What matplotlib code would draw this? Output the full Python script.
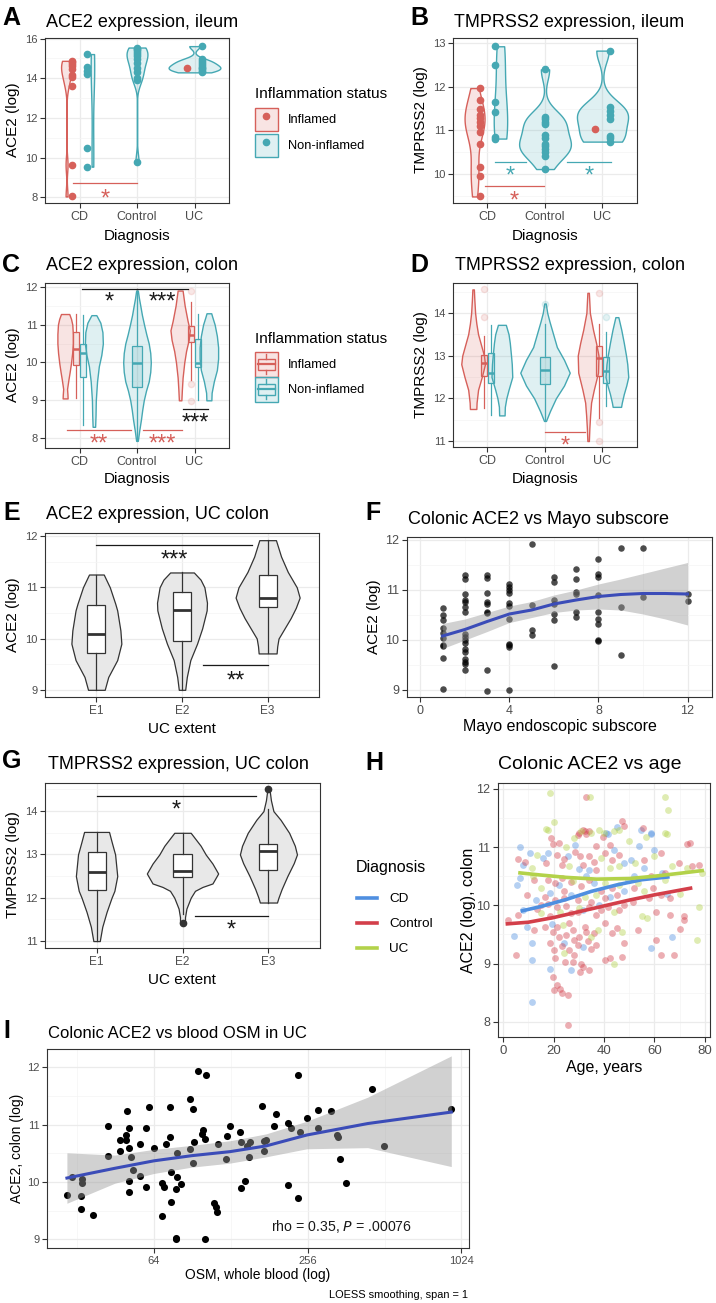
import numpy as np
import matplotlib
matplotlib.use('Agg')
import matplotlib.pyplot as plt
from matplotlib.colors import to_rgba
from matplotlib.lines import Line2D
from matplotlib.patches import Patch, Rectangle
from matplotlib.legend_handler import HandlerBase

plt.rcParams['font.family'] = ['Liberation Sans', 'DejaVu Sans']

# ---------------- data ----------------
diagnoses = ['CD', 'Control', 'UC']
statuses = ['Inflamed', 'Non-inflamed']
extents = ['E1', 'E2', 'E3']

# A: ACE2 (log), ileum, one value per sample
ace2_ileum_inflamed = {'CD': [14.88, 14.8, 14.72, 14.6, 14.45, 14.15, 14.05, 13.62, 9.65, 8.05],
                       'UC': [14.5]}
ace2_ileum_noninflamed = {'CD': [15.22, 14.58, 14.38, 14.21, 10.5, 9.55],
                          'Control': [15.55, 15.5, 15.45, 15.34, 15.2, 15.1, 14.95, 14.75, 14.5,
                                      14.33, 14.0, 13.9, 9.8],
                          'UC': [15.62, 14.95, 14.85, 14.75, 14.65, 14.58, 14.5, 14.45, 14.38, 14.3]}

# B: TMPRSS2 (log), ileum
tmprss2_ileum_inflamed = {'CD': [11.97, 11.7, 11.5, 11.35, 11.28, 11.2, 11.1, 10.97, 10.68, 10.15,
                                 9.94, 9.48],
                          'UC': [11.03]}
tmprss2_ileum_noninflamed = {'CD': [12.93, 12.5, 11.65, 11.42, 10.84, 10.81],
                             'Control': [12.4, 11.3, 11.26, 11.2, 11.15, 10.9, 10.82, 10.68, 10.63,
                                         10.58, 10.5, 10.42, 10.11],
                             'UC': [12.83, 11.53, 11.45, 11.35, 11.25, 10.87, 10.82, 10.74]}

# C: ACE2 (log), colon -- box stats (lower whisker, Q1, median, Q3, upper whisker)
ace2_colon_box = {('CD', 'Inflamed'): [9.05, 9.93, 10.36, 10.8, 11.28],
                  ('CD', 'Non-inflamed'): [8.34, 9.61, 10.25, 10.49, 11.25],
                  ('Control', 'Non-inflamed'): [7.93, 9.36, 9.98, 10.44, 11.9],
                  ('UC', 'Inflamed'): [9.54, 10.55, 10.73, 10.97, 11.61],
                  ('UC', 'Non-inflamed'): [9.0, 9.87, 9.99, 10.61, 11.28]}
ace2_colon_outliers = {('UC', 'Inflamed'): [11.88, 9.43, 8.97]}
# violin outlines: y levels, relative density
ace2_colon_violin = {
    ('CD', 'Inflamed'): ([9.05, 9.15, 9.3, 9.55, 9.75, 9.97, 10.25, 10.5, 10.75, 11.0, 11.15, 11.28],
                         [0.18, 0.17, 0.14, 0.24, 0.33, 0.42, 0.51, 0.56, 0.56, 0.52, 0.43, 0.30]),
    ('CD', 'Non-inflamed'): ([8.3, 8.6, 9.0, 9.5, 9.9, 10.2, 10.5, 10.8, 11.05, 11.25],
                             [0.09, 0.12, 0.14, 0.23, 0.36, 0.54, 0.65, 0.62, 0.47, 0.18]),
    ('Control', 'Non-inflamed'): ([7.93, 8.2, 8.5, 8.75, 9.0, 9.25, 9.5, 9.75, 10.0, 10.25, 10.5,
                                   10.75, 11.0, 11.25, 11.5, 11.7, 11.9],
                                  [0.06, 0.16, 0.29, 0.38, 0.49, 0.65, 0.85, 0.96, 1.0, 0.96, 0.85,
                                   0.67, 0.51, 0.36, 0.24, 0.14, 0.06]),
    ('UC', 'Inflamed'): ([9.0, 9.3, 9.6, 10.0, 10.3, 10.6, 10.85, 11.1, 11.5, 11.9],
                         [0.09, 0.13, 0.18, 0.30, 0.43, 0.62, 0.70, 0.54, 0.33, 0.18]),
    ('UC', 'Non-inflamed'): ([9.0, 9.2, 9.5, 9.8, 10.1, 10.4, 10.7, 11.0, 11.2, 11.3],
                             [0.18, 0.2, 0.36, 0.58, 0.67, 0.67, 0.58, 0.42, 0.25, 0.17])}

# D: TMPRSS2 (log), colon
tmprss2_colon_box = {('CD', 'Inflamed'): [11.78, 12.52, 12.82, 13.02, 13.47],
                     ('CD', 'Non-inflamed'): [11.62, 12.36, 12.6, 13.07, 13.72],
                     ('Control', 'Non-inflamed'): [11.5, 12.33, 12.67, 12.97, 13.75],
                     ('UC', 'Inflamed'): [11.55, 12.52, 12.95, 13.22, 13.75],
                     ('UC', 'Non-inflamed'): [11.81, 12.35, 12.64, 12.96, 13.56]}
tmprss2_colon_outliers = {('CD', 'Inflamed'): [14.55, 13.9],
                          ('Control', 'Non-inflamed'): [14.2],
                          ('UC', 'Inflamed'): [14.47, 11.44, 11.0],
                          ('UC', 'Non-inflamed'): [13.91]}
tmprss2_colon_violin = {
    ('CD', 'Inflamed'): ([11.75, 11.9, 12.2, 12.5, 12.8, 13.0, 13.25, 13.5, 13.75, 14.0, 14.3, 14.55],
                         [0.13, 0.14, 0.2, 0.35, 0.48, 0.44, 0.32, 0.2, 0.13, 0.08, 0.05, 0.03]),
    ('CD', 'Non-inflamed'): ([11.6, 11.8, 12.0, 12.2, 12.5, 12.8, 13.0, 13.3, 13.5, 13.72],
                             [0.11, 0.12, 0.18, 0.27, 0.42, 0.4, 0.37, 0.32, 0.27, 0.16]),
    ('Control', 'Non-inflamed'): ([11.47, 11.7, 12.0, 12.3, 12.6, 12.9, 13.2, 13.5, 13.8, 14.0, 14.22],
                                  [0.04, 0.2, 0.44, 0.77, 1.0, 0.77, 0.48, 0.33, 0.18, 0.09, 0.03]),
    ('UC', 'Inflamed'): ([11.0, 11.3, 11.6, 11.9, 12.2, 12.6, 13.0, 13.3, 13.6, 14.0, 14.47],
                         [0.03, 0.05, 0.08, 0.12, 0.23, 0.4, 0.42, 0.32, 0.2, 0.07, 0.03]),
    ('UC', 'Non-inflamed'): ([11.8, 11.9, 12.1, 12.3, 12.5, 12.8, 13.0, 13.3, 13.6, 13.9],
                             [0.17, 0.2, 0.28, 0.38, 0.46, 0.42, 0.37, 0.28, 0.18, 0.06])}

# E: ACE2 (log), UC colon by extent
ace2_extent_box = {'E1': [9.0, 9.72, 10.08, 10.65, 11.25],
                   'E2': [9.0, 9.95, 10.55, 10.91, 11.29],
                   'E3': [9.71, 10.62, 10.8, 11.25, 11.92]}
ace2_extent_violin = {
    'E1': ([9.0, 9.25, 9.58, 9.9, 10.16, 10.55, 10.68, 11.0, 11.25],
           [0.26, 0.37, 0.65, 0.78, 0.75, 0.65, 0.59, 0.42, 0.23]),
    'E2': ([9.0, 9.25, 9.58, 9.9, 10.2, 10.55, 10.7, 11.0, 11.15, 11.29],
           [0.1, 0.15, 0.26, 0.47, 0.63, 0.77, 0.78, 0.7, 0.58, 0.37]),
    'E3': ([9.71, 9.85, 10.0, 10.2, 10.4, 10.6, 10.8, 11.0, 11.3, 11.6, 11.92],
           [0.28, 0.3, 0.34, 0.53, 0.72, 0.88, 1.0, 0.91, 0.63, 0.42, 0.26])}

# G: TMPRSS2 (log), UC colon by extent
tmprss2_extent_box = {'E1': [11.0, 12.19, 12.6, 13.06, 13.52],
                      'E2': [11.62, 12.47, 12.62, 13.0, 13.5],
                      'E3': [11.89, 12.64, 13.07, 13.24, 14.05]}
tmprss2_extent_outliers = {'E2': [11.42], 'E3': [14.5]}
tmprss2_extent_violin = {
    'E1': ([11.0, 11.33, 11.67, 12.0, 12.16, 12.5, 13.0, 13.3, 13.52],
           [0.09, 0.16, 0.28, 0.42, 0.5, 0.58, 0.52, 0.42, 0.35]),
    'E2': ([11.42, 11.55, 11.75, 12.0, 12.16, 12.25, 12.33, 12.56, 12.79, 13.0, 13.2, 13.5],
           [0.07, 0.07, 0.11, 0.23, 0.35, 0.56, 0.84, 1.0, 0.84, 0.65, 0.51, 0.23]),
    'E3': ([11.89, 12.0, 12.2, 12.5, 12.8, 13.0, 13.2, 13.5, 13.8, 14.0, 14.25, 14.5],
           [0.24, 0.28, 0.37, 0.53, 0.71, 0.8, 0.74, 0.58, 0.34, 0.14, 0.07, 0.03])}

# F: colonic ACE2 vs Mayo endoscopic subscore
mayo_ace2 = {1: [10.65, 10.5, 10.4, 10.25, 10.15, 10.05, 9.9, 9.88, 9.65, 9.02],
             2: [11.3, 11.23, 10.93, 10.81, 10.77, 10.67, 10.57, 10.13, 10.07, 10.0, 9.95, 9.83,
                 9.77, 9.63, 9.57, 9.53, 9.41],
             3: [11.3, 11.25, 10.95, 10.77, 10.73, 10.57, 10.55, 9.41, 8.99],
             4: [11.12, 11.07, 11.0, 10.95, 10.75, 10.69, 10.43, 9.93, 9.9, 9.87, 9.01],
             5: [11.92, 10.7, 10.2, 10.1],
             6: [11.27, 11.17, 10.8, 10.72, 10.53, 10.41, 9.48],
             7: [11.43, 11.23, 10.97, 10.93, 10.57, 10.47],
             8: [11.63, 11.32, 11.27, 10.9, 10.57, 10.43, 10.33, 10.01, 9.99],
             9: [11.85, 10.67, 9.71],
             10: [11.85, 10.87],
             12: [10.93, 10.79]}
mayo_fit_x = [1, 2, 3, 4, 5, 6, 7, 8, 9, 10, 11, 12]
mayo_fit = [10.08, 10.21, 10.37, 10.52, 10.6, 10.72, 10.8, 10.87, 10.91, 10.93, 10.93, 10.92]
mayo_fit_lo = [9.83, 10.0, 10.17, 10.35, 10.45, 10.55, 10.6, 10.62, 10.6, 10.52, 10.42, 10.3]
mayo_fit_hi = [10.33, 10.42, 10.55, 10.68, 10.77, 10.9, 11.0, 11.12, 11.22, 11.33, 11.44, 11.55]

# H: colonic ACE2 vs age, by diagnosis (age, ACE2)
cd_age_ace2 = [(6.9, 11.0), (41.5, 11.23), (58.7, 11.24), (28.7, 11.04), (54.0, 11.01), (10.5, 10.9),
               (16.0, 10.81), (17.8, 10.9), (25.6, 10.84), (50.5, 10.78), (7.8, 10.7), (30.0, 10.62),
               (47.8, 10.72), (56.0, 10.64), (6.9, 10.47), (5.6, 10.35), (36.0, 10.38), (49.6, 10.44),
               (47.8, 10.24), (18.7, 10.21), (26.9, 10.18), (42.4, 10.15), (7.8, 9.92), (31.8, 9.92),
               (67.0, 9.46), (9.6, 9.62), (58.7, 9.26), (11.5, 9.35), (31.5, 9.29), (27.0, 8.89),
               (18.7, 8.9), (11.5, 8.34), (40.9, 11.24), (54.5, 11.29), (58.5, 11.22), (11.5, 9.06),
               (60.0, 10.95), (63.0, 10.55), (22.0, 10.35), (34.0, 10.6), (44.0, 10.95), (33.0, 10.5),
               (19.5, 9.68), (24.0, 9.35), (4.2, 9.47), (13.0, 10.1), (38.0, 10.0), (52.0, 10.5),
               (65.0, 10.2), (45.0, 11.35)]
control_age_ace2 = [(33, 11.86), (47, 11.45), (48, 11.37), (30, 11.25), (31.5, 11.3), (33, 11.22),
                    (34, 11.27), (39.7, 11.17), (55.4, 11.32), (19, 11.15), (29.6, 11.21), (32.4, 11.27),
                    (19.6, 11.06), (22, 11.07), (37, 11.01), (42.4, 11.04), (73, 11.06), (74, 11.07),
                    (6, 10.79), (8.7, 10.75), (21.5, 10.87), (24.2, 10.79), (28.7, 10.91), (30.5, 10.84),
                    (34.2, 10.85), (40.5, 10.9), (43.3, 10.78), (46, 10.87), (56, 10.77), (62.4, 10.89),
                    (69.6, 10.72), (77.8, 10.7), (17, 10.72), (23.3, 10.7), (31.5, 10.7), (37, 10.61),
                    (64, 10.55), (75, 10.67), (12.4, 10.44), (17.8, 10.44), (20.5, 10.38), (23.3, 10.47),
                    (31, 10.33), (34.2, 10.44), (43.3, 10.29), (58.7, 10.5), (59.6, 10.29), (62.4, 10.18),
                    (66, 10.12), (57.8, 10.12), (9.6, 10.18), (16.5, 10.15), (20.5, 10.09), (24.2, 10.12),
                    (29.6, 10.09), (35, 10.06), (38.7, 10.24), (40.5, 10.12), (45, 10.18), (2, 9.75),
                    (6, 9.84), (13.3, 9.93), (17.8, 10.02), (18.7, 9.81), (21.5, 9.97), (25, 9.99),
                    (27, 9.86), (29.6, 9.89), (34.2, 9.97), (37, 9.84), (38.7, 9.92), (41.5, 9.98),
                    (46, 9.92), (48, 10.01), (51.5, 10.06), (60.5, 9.89), (66, 9.84), (71.5, 9.81),
                    (71.5, 9.74), (12.4, 9.58), (16.5, 9.63), (19.6, 9.55), (21.5, 9.62), (25, 9.49),
                    (27.8, 9.58), (30, 9.46), (32.4, 9.63), (36, 9.52), (40.5, 9.69), (43.3, 9.52),
                    (45, 9.61), (53.3, 9.58), (60.5, 9.4), (18.7, 9.35), (20, 9.23), (23.3, 9.3),
                    (26, 9.23), (28.2, 9.41), (29.6, 9.32), (33.6, 9.38), (37, 9.32), (47.8, 9.36),
                    (20.5, 9.09), (24.5, 9.03), (27.8, 9.03), (31.5, 8.95), (34.2, 8.89), (30.5, 8.86),
                    (40.5, 9.06), (42.4, 9.09), (47, 9.12), (62.4, 9.15), (67.8, 9.15), (19.6, 8.77),
                    (21.5, 8.63), (20, 8.54), (22.4, 8.56), (23.3, 8.49), (25.6, 8.46), (25.6, 7.95),
                    (22, 9.45), (26, 9.7), (28, 9.15), (31, 9.0), (33, 9.55), (35, 9.25), (24, 10.25),
                    (27, 10.4), (36, 10.75), (15, 10.0), (5, 9.14), (52, 10.3), (70, 9.6)]
uc_age_ace2 = [(18.6, 11.92), (34.5, 11.86), (64, 11.86), (65.4, 11.63), (20, 11.43), (17, 11.31),
               (30.8, 11.27), (38, 11.29), (40, 11.25), (46, 11.29), (56.6, 11.17), (64, 11.25),
               (28, 11.15), (17.8, 11.3), (35, 11.24), (44, 11.27), (65, 11.23), (13.3, 10.87),
               (38.7, 10.81), (52.4, 10.72), (67, 10.67), (11.5, 10.64), (26, 10.67), (42.4, 10.64),
               (46, 10.67), (73, 10.64), (27.8, 10.41), (40.2, 10.39), (46, 10.35), (53.3, 10.38),
               (64.2, 10.44), (56, 10.24), (32.4, 10.15), (37, 10.18), (15, 9.86), (22.7, 9.89),
               (43.8, 9.88), (55, 9.81), (57, 9.78), (77.8, 9.98), (23.8, 9.66), (37.8, 9.58),
               (47, 9.55), (77, 9.4), (24.2, 9.18), (44, 9.0), (79, 10.55), (60, 10.85), (50, 11.1),
               (70, 10.2), (25, 11.0), (12, 10.5), (15, 10.3), (35, 9.45), (30, 9.95)]
cd_fit_age = [7, 15, 25, 35, 45, 55, 66]
cd_fit = [9.9, 9.98, 10.1, 10.24, 10.35, 10.44, 10.49]
control_fit_age = [1, 10, 20, 30, 40, 50, 60, 75]
control_fit = [9.68, 9.71, 9.79, 9.89, 9.99, 10.09, 10.18, 10.3]
uc_fit_age = [6, 15, 25, 37, 50, 60, 70, 79.6]
uc_fit = [10.56, 10.52, 10.48, 10.45, 10.46, 10.5, 10.55, 10.6]

# I: colonic ACE2 vs whole-blood OSM in UC
osm_blood = [29.2, 30.7, 33.5, 33.5, 33.3, 33.3, 37.0, 42.3, 42.3, 47.0, 47.0, 49.9, 49.9, 50.3, 51.2,
             51.2, 52.1, 51.2, 51.2, 53.2, 56.5, 56.5, 59.6, 59.6, 61.4, 64, 69.0, 70.0, 69.0, 71.5,
             74.0, 74.0, 74.6, 74.6, 78.2, 78.2, 78.8, 78.8, 77.8, 81.4, 88.4, 88.4, 91.0, 91.0, 91.7,
             95.0, 99.1, 100, 101, 102, 101, 110, 112, 113, 114, 123, 124, 127, 139, 140, 140, 146,
             148, 151, 152, 172, 173, 176, 169, 189, 192, 215, 221, 214, 234, 234, 239, 254, 282, 282,
             317, 333, 336, 342, 362, 458, 509, 935]
ace2_osm = [9.77, 10.09, 10.06, 9.99, 9.76, 9.53, 9.42, 10.45, 10.97, 10.73, 10.55, 10.82, 10.74, 11.24,
            10.95, 10.59, 10.44, 10.01, 9.82, 10.21, 10.1, 10.66, 9.91, 10.95, 11.31, 10.59, 9.98, 9.91,
            9.41, 10.66, 11.3, 10.78, 10.18, 9.65, 9.02, 9.0, 10.51, 10.08, 9.88, 9.96, 11.44, 10.57,
            11.27, 10.34, 10.7, 11.94, 10.84, 10.91, 10.75, 11.87, 9.0, 9.63, 9.57, 9.48, 10.66, 10.4,
            10.8, 10.97, 10.88, 10.7, 9.89, 10.02, 10.62, 10.43, 10.7, 10.55, 10.72, 10.73, 11.33,
            10.98, 11.18, 11.03, 10.94, 9.94, 11.87, 9.72, 10.88, 11.11, 11.26, 10.95, 11.24, 10.82,
            10.79, 10.41, 9.99, 11.63, 10.62, 11.28]
osm_fit_x = [29.2, 45, 64, 90, 127, 176, 254, 440, 935]
osm_fit = [10.07, 10.24, 10.37, 10.46, 10.53, 10.63, 10.82, 11.02, 11.22]
osm_fit_lo = [9.63, 9.98, 10.15, 10.26, 10.33, 10.44, 10.58, 10.6, 10.27]
osm_fit_hi = [10.51, 10.47, 10.57, 10.64, 10.72, 10.84, 11.06, 11.48, 12.2]

# significance bars: x1, x2, y of bar, y of stars, label, colour key
sig_A = [(0.89, 2.0, 8.71, 8.3, '*', 'Inflamed')]
sig_B = [(1.13, 1.67, 10.28, 10.13, '*', 'Non-inflamed'), (2.38, 3.15, 10.28, 10.13, '*', 'Non-inflamed'),
         (0.96, 1.98, 9.71, 9.54, '*', 'Inflamed')]
sig_C = [(1.04, 2.0, 11.95, 11.79, '*', 'black'), (2.0, 2.89, 11.95, 11.79, '***', 'black'),
         (2.8, 3.23, 8.78, 8.59, '***', 'black'), (0.78, 1.9, 8.21, 8.03, '**', 'Inflamed'),
         (2.1, 2.78, 8.21, 8.03, '***', 'Inflamed')]
sig_D = [(2.0, 2.7, 11.22, 11.06, '*', 'Inflamed')]
sig_E = [(1.0, 2.82, 11.83, 11.67, '***', 'black'), (2.25, 3.0, 9.48, 9.32, '**', 'black')]
sig_G = [(1.0, 2.85, 14.35, 14.19, '*', 'black'), (2.14, 3.0, 11.57, 11.42, '*', 'black')]

# ---------------- style ----------------
COL = {'Inflamed': '#D6605A', 'Non-inflamed': '#45A8B3', 'black': '#1A1A1A'}
FILL = {k: to_rgba(v, 0.17) for k, v in COL.items()}
DX_COL = {'CD': '#4F8FE0', 'Control': '#D33F4A', 'UC': '#B3D24A'}
GRID = '#EBEBEB'
DARK = '#333333'

W, H = 716, 1303
fig = plt.figure(figsize=(W / 100, H / 100), dpi=100)


def rect(l, t, r, b):
    return [l / W, 1 - b / H, (r - l) / W, (b - t) / H]


def ftext(x, y, s, **kw):
    fig.text(x / W, 1 - y / H, s, **kw)


def gg(ax, xsize=9, ysize=8):
    for s in ax.spines.values():
        s.set_color(DARK)
        s.set_linewidth(0.8)
    ax.tick_params(length=3.5, width=0.8, color=DARK, labelcolor='#4D4D4D', pad=2)
    ax.tick_params(axis='x', labelsize=xsize)
    ax.tick_params(axis='y', labelsize=ysize)
    ax.tick_params(which='minor', length=0)
    ax.grid(True, which='major', color=GRID, lw=0.9)
    ax.grid(True, which='minor', color='#F4F4F4', lw=0.5)
    ax.set_axisbelow(True)


def kde(vals, n=256):
    v = np.asarray(vals, float)
    sd = v.std(ddof=1)
    q75, q25 = np.percentile(v, [75, 25])
    lo = min(sd, (q75 - q25) / 1.34) or sd
    bw = 0.9 * lo * len(v) ** -0.2
    ys = np.linspace(v.min(), v.max(), n)
    d = np.exp(-0.5 * ((ys[:, None] - v[None, :]) / bw) ** 2).sum(1) / (len(v) * bw * np.sqrt(2 * np.pi))
    return ys, d


def draw_sig(ax, sig):
    for x1, x2, y, ys, lab, c in sig:
        ax.plot([x1, x2], [y, y], color=COL[c], lw=0.9, zorder=4)
        ax.annotate(lab, xy=((x1 + x2) / 2, ys), xytext=(0, -10), textcoords='offset points',
                    ha='center', va='baseline', fontsize=17, color=COL[c], zorder=4)


def discrete_axis(ax, ylim, yt, ymin):
    ax.set_xlim(0.4, 3.6)
    ax.set_ylim(*ylim)
    ax.set_xticks([1, 2, 3], diagnoses)
    ax.set_yticks(yt)
    ax.set_yticks(ymin, minor=True)


def point_violins(ax, inflamed, noninflamed):
    groups = {'Inflamed': inflamed, 'Non-inflamed': noninflamed}
    violins = []
    for i, dx in enumerate(diagnoses, 1):
        vg = [st for st in statuses if dx in groups[st] and len(groups[st][dx]) >= 2]
        slot = 0.9 / len(vg)
        for k, st in enumerate(vg):
            ys, d = kde(groups[st][dx])
            violins.append((i - 0.45 + slot * (k + 0.5), slot, ys, d, st))
    gmax = max(v[3].max() for v in violins)
    for c, slot, ys, d, st in violins:
        hw = d / gmax * slot / 2
        ax.fill_betweenx(ys, c - hw, c + hw, facecolor=FILL[st], edgecolor=COL[st], lw=1)
    for i, dx in enumerate(diagnoses, 1):
        pg = [st for st in statuses if dx in groups[st]]
        for k, st in enumerate(pg):
            off = (-0.125, 0.125)[k] if len(pg) == 2 else 0
            vals = groups[st][dx]
            ax.plot(np.full(len(vals), i + off), vals, 'o', color=COL[st], ms=4.5, zorder=3)


def box_violins(ax, box, outliers, violin, vscale):
    for i, dx in enumerate(diagnoses, 1):
        sts = [st for st in statuses if (dx, st) in box]
        for k, st in enumerate(sts):
            two = len(sts) == 2
            voff = (-0.25, 0.25)[k] if two else 0
            boff = (-0.06, 0.06)[k] if two else 0
            y, dens = violin[(dx, st)]
            hw = np.array(dens) * vscale
            ax.fill_betweenx(y, i + voff - hw, i + voff + hw, facecolor=FILL[st], edgecolor=COL[st], lw=1)
            lo, q1, med, q3, hi = box[(dx, st)]
            stats = [dict(whislo=lo, q1=q1, med=med, q3=q3, whishi=hi, fliers=outliers.get((dx, st), []))]
            ax.bxp(stats, positions=[i + boff], widths=0.11 if two else 0.19, patch_artist=True,
                   showcaps=False, manage_ticks=False,
                   boxprops=dict(facecolor=FILL[st], edgecolor=COL[st], lw=0.9),
                   medianprops=dict(color=COL[st], lw=1.8),
                   whiskerprops=dict(color=COL[st], lw=0.9),
                   flierprops=dict(marker='o', markerfacecolor=COL[st], markeredgecolor=COL[st],
                                   alpha=0.15, markersize=4.5))


def extent_violins(ax, box, outliers, violin, vscale):
    for i, e in enumerate(extents, 1):
        y, dens = violin[e]
        hw = np.array(dens) * vscale
        ax.fill_betweenx(y, i - hw, i + hw, facecolor='#E8E8E8', edgecolor=DARK, lw=0.9)
        lo, q1, med, q3, hi = box[e]
        stats = [dict(whislo=lo, q1=q1, med=med, q3=q3, whishi=hi, fliers=outliers.get(e, []))]
        ax.bxp(stats, positions=[i], widths=0.21, patch_artist=True, showcaps=False, manage_ticks=False,
               boxprops=dict(facecolor='white', edgecolor=DARK, lw=0.9),
               medianprops=dict(color=DARK, lw=2),
               whiskerprops=dict(color=DARK, lw=0.9),
               flierprops=dict(marker='o', markerfacecolor=DARK, markeredgecolor=DARK, markersize=4.5))
    ax.set_xlim(0.4, 3.6)
    ax.set_xticks([1, 2, 3], extents)


class BoxKey(HandlerBase):
    def create_artists(self, legend, orig_handle, xdescent, ydescent, width, height, fontsize, trans):
        ec, fc = orig_handle.get_edgecolor(), orig_handle.get_facecolor()
        x0, y0 = -xdescent, -ydescent
        bx, bw, xc = x0 + 0.15 * width, 0.7 * width, x0 + width / 2
        return [Rectangle((x0, y0), width, height, facecolor=fc, edgecolor=ec, lw=1, transform=trans),
                Rectangle((bx, y0 + 0.28 * height), bw, 0.44 * height, facecolor='none', edgecolor=ec,
                          lw=1, transform=trans),
                Line2D([bx, bx + bw], [y0 + 0.5 * height] * 2, color=ec, lw=1.6, transform=trans),
                Line2D([xc, xc], [y0 + 0.1 * height, y0 + 0.28 * height], color=ec, lw=1, transform=trans),
                Line2D([xc, xc], [y0 + 0.72 * height, y0 + 0.9 * height], color=ec, lw=1, transform=trans)]


# ---------------- panels A-D ----------------
axA = fig.add_axes(rect(45, 38, 229, 203))
point_violins(axA, ace2_ileum_inflamed, ace2_ileum_noninflamed)
discrete_axis(axA, (7.72, 16.03), [8, 10, 12, 14, 16], [9, 11, 13, 15])
draw_sig(axA, sig_A)

axB = fig.add_axes(rect(453, 38, 637, 203))
point_violins(axB, tmprss2_ileum_inflamed, tmprss2_ileum_noninflamed)
discrete_axis(axB, (9.33, 13.12), [10, 11, 12, 13], [9.5, 10.5, 11.5, 12.5])
draw_sig(axB, sig_B)

axC = fig.add_axes(rect(45, 283, 229, 448))
box_violins(axC, ace2_colon_box, ace2_colon_outliers, ace2_colon_violin, 0.24)
discrete_axis(axC, (7.74, 12.1), [8, 9, 10, 11, 12], [8.5, 9.5, 10.5, 11.5])
draw_sig(axC, sig_C)

axD = fig.add_axes(rect(453, 283, 637, 447))
box_violins(axD, tmprss2_colon_box, tmprss2_colon_outliers, tmprss2_colon_violin, 0.43)
discrete_axis(axD, (10.86, 14.7), [11, 12, 13, 14], [11.5, 12.5, 13.5, 14.5])
draw_sig(axD, sig_D)

for ax in (axA, axB, axC, axD):
    gg(ax, 9, 8)
    ax.grid(False, which='minor', axis='x')

# ---------------- panels E, G ----------------
axE = fig.add_axes(rect(45, 533, 319, 697))
extent_violins(axE, ace2_extent_box, {}, ace2_extent_violin, 0.374)
axE.set_ylim(8.86, 12.06)
axE.set_yticks([9, 10, 11, 12])
axE.set_yticks([9.5, 10.5, 11.5], minor=True)
draw_sig(axE, sig_E)

axG = fig.add_axes(rect(45, 783, 320, 948))
extent_violins(axG, tmprss2_extent_box, tmprss2_extent_outliers, tmprss2_extent_violin, 0.415)
axG.set_ylim(10.84, 14.65)
axG.set_yticks([11, 12, 13, 14])
axG.set_yticks([11.5, 12.5, 13.5, 14.5], minor=True)
draw_sig(axG, sig_G)
for ax in (axE, axG):
    gg(ax, 8.5, 8)
    ax.grid(False, which='minor', axis='x')

# ---------------- panel F ----------------
axF = fig.add_axes(rect(407, 537, 712, 697))
fx = np.concatenate([[k] * len(v) for k, v in mayo_ace2.items()])
fy = np.concatenate(list(mayo_ace2.values()))
axF.scatter(fx, fy, s=22, color='black', alpha=0.7, lw=0, zorder=2)
axF.fill_between(mayo_fit_x, mayo_fit_lo, mayo_fit_hi, color='#999999', alpha=0.45, lw=0, zorder=3)
axF.plot(mayo_fit_x, mayo_fit, color='#3B4CB8', lw=2.2, zorder=4)
axF.set_xlim(-0.6, 13.1)
axF.set_ylim(8.86, 12.06)
axF.set_xticks([0, 4, 8, 12])
axF.set_xticks([2, 6, 10], minor=True)
axF.set_yticks([9, 10, 11, 12])
axF.set_yticks([9.5, 10.5, 11.5], minor=True)
gg(axF, 9, 9)

# ---------------- panel H ----------------
axH = fig.add_axes(rect(498, 783, 710, 1037))
for dx, pts in (('CD', cd_age_ace2), ('Control', control_age_ace2), ('UC', uc_age_ace2)):
    a = np.array(pts)
    axH.scatter(a[:, 0], a[:, 1], s=24, color=DX_COL[dx], alpha=0.42, lw=0, zorder=2)
for dx, xs, ys in (('CD', cd_fit_age, cd_fit), ('Control', control_fit_age, control_fit),
                   ('UC', uc_fit_age, uc_fit)):
    axH.plot(xs, ys, color=DX_COL[dx], lw=2.6, zorder=3, solid_capstyle='butt')
axH.set_xlim(-2, 82)
axH.set_ylim(7.74, 12.1)
axH.set_xticks([0, 20, 40, 60, 80])
axH.set_xticks([10, 30, 50, 70], minor=True)
axH.set_yticks([8, 9, 10, 11, 12])
axH.set_yticks([8.5, 9.5, 10.5, 11.5], minor=True)
gg(axH, 9.5, 9)

# ---------------- panel I ----------------
axI = fig.add_axes(rect(47, 1049, 469, 1248))
axI.scatter(osm_blood, ace2_osm, s=26, color='black', lw=0, zorder=2)
axI.fill_between(osm_fit_x, osm_fit_lo, osm_fit_hi, color='#999999', alpha=0.45, lw=0, zorder=3)
axI.plot(osm_fit_x, osm_fit, color='#3B4CB8', lw=2.2, zorder=4)
axI.set_xscale('log', base=2)
axI.set_xlim(24.4, 1097)
axI.set_ylim(8.85, 12.32)
axI.set_xticks([64, 256, 1024], ['64', '256', '1024'])
axI.set_xticks([32, 128, 512], ['', '', ''], minor=True)
axI.set_yticks([9, 10, 11, 12])
axI.set_yticks([9.5, 10.5, 11.5], minor=True)
gg(axI, 8, 8)
axI.text(0.53, 0.085, 'rho = 0.35, $\\it{P}$ = .00076', transform=axI.transAxes, fontsize=10.2,
         color='#1A1A1A', ha='left', va='baseline')

# ---------------- titles, letters, axis titles ----------------
letters = [('A', 2, 25), ('B', 410, 25), ('C', 2, 272), ('D', 410, 272), ('E', 3, 520),
           ('F', 365, 520), ('G', 2, 768), ('H', 365, 770), ('I', 3, 1038)]
for s, x, y in letters:
    ftext(x, y, s, fontsize=18, fontweight='bold', va='baseline')

titles = [('ACE2 expression, ileum', 46, 27, 13), ('TMPRSS2 expression, ileum', 454, 27, 13),
          ('ACE2 expression, colon', 46, 270, 13), ('TMPRSS2 expression, colon', 455, 270, 13),
          ('ACE2 expression, UC colon', 46, 519, 13), ('Colonic ACE2 vs Mayo subscore', 408, 524, 13),
          ('TMPRSS2 expression, UC colon', 48, 769, 13), ('Colonic ACE2 vs age', 498, 769, 14),
          ('Colonic ACE2 vs blood OSM in UC', 48, 1038, 12)]
for s, x, y, fs in titles:
    ftext(x, y, s, fontsize=fs, va='baseline')

xlabels = [('Diagnosis', 137, 240, 11), ('Diagnosis', 545, 240, 11), ('Diagnosis', 137, 483, 11),
           ('Diagnosis', 545, 483, 11), ('UC extent', 182, 733, 11),
           ('Mayo endoscopic subscore', 560, 731, 11.5), ('UC extent', 182, 984, 11),
           ('Age, years', 604, 1072, 11.5), ('OSM, whole blood (log)', 258, 1279, 10)]
for s, x, y, fs in xlabels:
    ftext(x, y, s, fontsize=fs, ha='center', va='baseline')

ylabels = [('ACE2 (log)', 13, 120, 11), ('TMPRSS2 (log)', 421, 120, 11), ('ACE2 (log)', 13, 365, 11),
           ('TMPRSS2 (log)', 421, 365, 11), ('ACE2 (log)', 13, 615, 11), ('ACE2 (log)', 374, 617, 11),
           ('TMPRSS2 (log)', 13, 865, 11), ('ACE2 (log), colon', 468, 910, 11.5),
           ('ACE2, colon (log)', 17, 1148, 10)]
for s, x, y, fs in ylabels:
    ftext(x, y, s, fontsize=fs, ha='center', va='center', rotation=90)

ftext(468, 1298, 'LOESS smoothing, span = 1', fontsize=7.9, ha='right', va='baseline')

# ---------------- legends (title drawn as text, keys by fig.legend) ----------------
ftext(255, 98, 'Inflammation status', fontsize=11, va='baseline')
pt_handles = [(Patch(facecolor=FILL[st], edgecolor=COL[st], lw=1),
               Line2D([], [], ls='none', marker='o', color=COL[st], ms=4.5)) for st in statuses]
fig.legend(pt_handles, statuses, loc='upper left',
           bbox_to_anchor=(255 / W, 1 - 108 / H), frameon=False, fontsize=9.3,
           handlelength=1.78, handleheight=2.36, handletextpad=0.75, labelspacing=0.23,
           borderpad=0, borderaxespad=0)

ftext(255, 343, 'Inflammation status', fontsize=11, va='baseline')
box_handles = [Patch(facecolor=FILL[st], edgecolor=COL[st]) for st in statuses]
fig.legend(box_handles, statuses, loc='upper left',
           bbox_to_anchor=(255 / W, 1 - 352 / H), frameon=False, fontsize=9.3,
           handlelength=1.78, handleheight=2.6, handletextpad=0.75, labelspacing=0.0,
           borderpad=0, borderaxespad=0,
           handler_map={h: BoxKey() for h in box_handles})

ftext(356, 872, 'Diagnosis', fontsize=11.5, va='baseline')
dx_handles = [Line2D([], [], color=DX_COL[dx], lw=2.6) for dx in diagnoses]
fig.legend(dx_handles, diagnoses, loc='upper left',
           bbox_to_anchor=(357 / W, 1 - 893 / H), frameon=False, fontsize=9.7,
           handlelength=1.5, handletextpad=0.9, labelspacing=0.93,
           borderpad=0, borderaxespad=0)

fig.savefig('out.png', dpi=100)
